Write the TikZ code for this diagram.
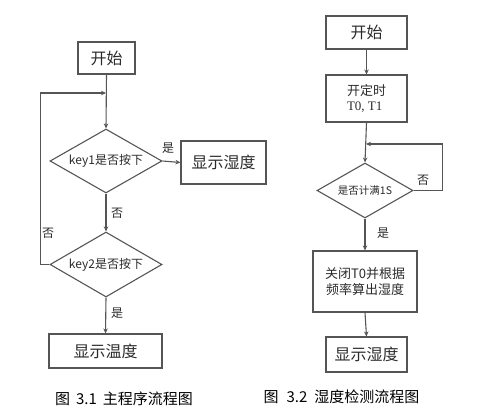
\documentclass[tikz,border=0pt]{standalone}
\usepackage{fontspec}
\setmainfont{Liberation Serif}
\newfontfamily\cjk{Noto Sans CJK SC}
\usetikzlibrary{shapes.geometric,arrows.meta}
\definecolor{ln}{HTML}{555555}
\definecolor{tx}{HTML}{2A2A2A}
\tikzset{
  box/.style={draw=ln,line width=1.1pt,rectangle,inner sep=0pt,text=tx,font=\cjk\fontsize{16}{18}\selectfont},
  dia/.style={draw=ln,line width=1.1pt,diamond,inner sep=0pt,text=tx,font=\cjk\fontsize{12}{14}\selectfont},
  arr/.style={draw=ln,line width=1.1pt,-{Stealth[length=5pt,width=4.5pt]}},
  lab/.style={text=tx,font=\cjk\fontsize{12}{14}\selectfont,inner sep=0pt},
  captxt/.style={text=black,font=\cjk\fontsize{15}{17}\selectfont,inner sep=0pt}
}
\begin{document}
\begin{tikzpicture}[x=1pt,y=-1pt]
\useasboundingbox (0,0) rectangle (501,420);
% left chart
\node[box,minimum width=57pt,minimum height=32pt] (Ls) at (106.5,58) {开始};
\coordinate (Lloop) at (106,93);
\node[dia,minimum width=112pt,minimum height=64pt] (Ld1) at (106,161) {\makebox[0pt]{key1是否按下}};
\node[box,minimum width=85pt,minimum height=43pt] (Lshow1) at (223.5,162.5) {显示湿度};
\node[dia,minimum width=112pt,minimum height=65pt] (Ld2) at (106,264.5) {\makebox[0pt]{key2是否按下}};
\node[box,minimum width=113pt,minimum height=34pt] (Lshow2) at (105.5,351) {显示温度};
\draw[arr] (Ls.south) -- (Ld1.north);
\draw[arr] (Ld1.east) -- (Lshow1.west);
\draw[arr] (Ld1.south) -- (Ld2.north);
\draw[arr] (Ld2.south) -- (Lshow2.north);
\draw[arr] (Ld2.west) -- ++(-9,0) |- (Lloop);
\node[lab] (Ly1) at (168,148) {是};
\node[lab] (Ln1) at (117,213) {否};
\node[lab] (Ln2) at (48,233) {否};
\node[lab] (Ly2) at (117,313) {是};
\node[captxt] (Lcap) at (124,399) {图\hspace{6pt}3.1\hspace{6pt}主程序流程图};
% right chart
\node[box,minimum width=81pt,minimum height=33pt] (Rs) at (366.5,32.5) {开始};
\node[box,minimum width=81pt,minimum height=47pt,align=left,font=\cjk\fontsize{13}{15}\selectfont] (Rt) at (366.5,98.5) {开定时\\{\rmfamily T0, T1}};
\coordinate (Rj) at (366,144);
\node[dia,minimum width=96pt,minimum height=55pt,font=\cjk\fontsize{10.5}{12}\selectfont] (Rd) at (365,190.5) {\makebox[0pt]{是否计满1S}};
\node[box,minimum width=104pt,minimum height=61pt,align=center,font=\cjk\fontsize{13}{15.5}\selectfont] (Rc) at (365,281.5) {关闭T0并根据\\频率算出湿度};
\node[box,minimum width=81pt,minimum height=35pt] (Rshow) at (366.5,354.5) {显示湿度};
\draw[arr] (Rs.south) -- (Rt.north);
\draw[arr] (Rt.south) -- (Rd.north);
\draw[arr] (Rd.east) -- ++(29,0) |- (Rj);
\draw[arr] (Rd.south) -- (Rc.north);
\draw[arr] (Rc.south) -- (Rshow.north);
\node[lab] (Rn) at (423,180) {否};
\node[lab] (Ry) at (383,233) {是};
\node[captxt] (Rcap) at (341.5,397) {图\hspace{8pt}3.2\hspace{7pt}湿度检测流程图};
\end{tikzpicture}
\end{document}
